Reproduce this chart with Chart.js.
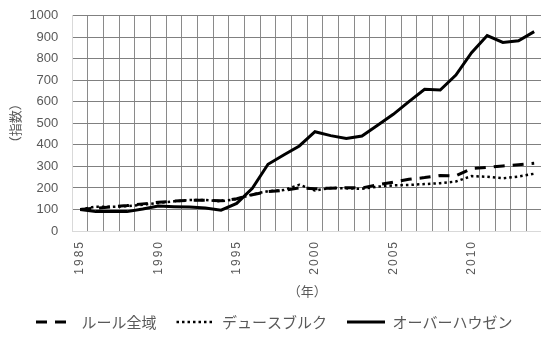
<!DOCTYPE html>
<html lang="ja">

<head>
  <meta charset="UTF-8">
  <title>指数の推移</title>
  <script src="https://cdn.jsdelivr.net/npm/chart.js"></script>
  <style>
    body { margin: 0; overflow: hidden; background: #fff; }
  </style>
</head>

<body>
  <canvas id="graficoIndice" width="545" height="341"></canvas>

  <script>
    // 年 (1985〜2014)
    var anos = ['1985', '1986', '1987', '1988', '1989', '1990', '1991', '1992', '1993', '1994',
      '1995', '1996', '1997', '1998', '1999', '2000', '2001', '2002', '2003', '2004',
      '2005', '2006', '2007', '2008', '2009', '2010', '2011', '2012', '2013', '2014'];

    // 凡例
    var nomes = ['ルール全域', 'デュースブルク', 'オーバーハウゼン'];

    // ルール全域
    var ruhr = [100, 106, 112, 118, 126, 133, 139, 143, 143, 140,
      150, 168, 183, 188, 200, 196, 199, 201, 200, 215,
      227, 240, 248, 258, 256, 290, 295, 302, 308, 315];

    // デュースブルク
    var duisburg = [100, 113, 112, 115, 122, 130, 138, 144, 144, 138,
      148, 170, 185, 190, 215, 188, 200, 198, 196, 206,
      212, 214, 218, 222, 230, 255, 252, 245, 253, 266];

    // オーバーハウゼン
    var oberhausen = [100, 90, 90, 90, 102, 116, 113, 111, 107, 97,
      128, 198, 310, 353, 395, 461, 443, 430, 441, 491,
      542, 601, 658, 655, 724, 828, 908, 876, 884, 926];

    var fonteJP = "'Noto Sans CJK JP', 'Noto Sans', sans-serif";
    var cinza = '#595959';

    // espaçamento entre letras nos rótulos do eixo x
    var espacamento = {
      id: 'espacamento',
      beforeDraw: function (chart) {
        var sx = chart.scales.x;
        if (sx._espacado) return;
        var original = sx.drawLabels;
        sx.drawLabels = function (area) {
          chart.ctx.save();
          chart.ctx.letterSpacing = '2px';
          original.call(this, area);
          chart.ctx.restore();
        };
        sx._espacado = true;
      }
    };

    var ctx = document.getElementById('graficoIndice').getContext('2d');
    var myChart = new Chart(ctx, {
      type: 'line',
      data: {
        labels: anos,
        datasets: [{
          label: nomes[0],
          data: ruhr,
          borderColor: '#000',
          borderWidth: 3,
          borderDash: [11, 8],
          pointRadius: 0,
          tension: 0
        }, {
          label: nomes[1],
          data: duisburg,
          borderColor: '#000',
          borderWidth: 2.5,
          borderDash: [2.5, 3],
          pointRadius: 0,
          tension: 0
        }, {
          label: nomes[2],
          data: oberhausen,
          borderColor: '#000',
          borderWidth: 3,
          pointRadius: 0,
          tension: 0
        }]
      },
      options: {
        responsive: false,
        animation: false,
        devicePixelRatio: 1,
        layout: { padding: { top: 15.7, right: 3, bottom: 1.5, left: 16 } },
        scales: {
          x: {
            offset: true,
            grid: {
              offset: true,
              drawTicks: false,
              color: function (c) { return c.index === 0 ? '#d9d9d9' : '#8a8a8a'; }
            },
            border: { color: '#d9d9d9' },
            ticks: {
              autoSkip: false,
              minRotation: 90,
              maxRotation: 90,
              padding: 9,
              color: cinza,
              font: { family: "'Liberation Sans', sans-serif", size: 12 },
              callback: function (v, i) {
                var a = anos[i];
                return Number(a) % 5 === 0 ? a : '';
              }
            },
            title: {
              display: true,
              text: '（年）',
              color: cinza,
              font: { family: fonteJP, size: 13 },
              padding: { top: 0, bottom: -4.3 }
            },
            afterFit: function (s) {
              s.height = 63.5;
              s.paddingLeft = 0;
              s.paddingRight = 0;
            }
          },
          y: {
            min: 0,
            max: 1000,
            ticks: {
              stepSize: 100,
              autoSkip: false,
              padding: 14,
              color: cinza,
              font: { family: "'Liberation Sans', sans-serif", size: 13 },
              callback: function (v) { return String(v); }
            },
            grid: {
              drawTicks: false,
              color: function (c) { return c.tick && c.tick.value === 0 ? '#d9d9d9' : '#808080'; }
            },
            border: { color: '#d9d9d9' },
            title: {
              display: true,
              text: '（指数）',
              color: cinza,
              font: { family: fonteJP, size: 13 },
              padding: { top: -8.8, bottom: 0 }
            },
            afterFit: function (s) {
              s.width = 56.3;
              s.paddingTop = 0;
              s.paddingBottom = 0;
            }
          }
        },
        plugins: {
          tooltip: { enabled: false },
          legend: {
            position: 'bottom',
            align: 'start',
            labels: {
              usePointStyle: true,
              pointStyle: 'line',
              pointStyleWidth: 38,
              boxHeight: 15,
              padding: 20,
              color: cinza,
              font: { family: fonteJP, size: 15 },
              generateLabels: function (chart) {
                var itens = Chart.defaults.plugins.legend.labels.generateLabels(chart);
                itens.forEach(function (item) {
                  var ds = chart.data.datasets[item.datasetIndex];
                  item.lineDash = ds.borderDash || [];
                  item.lineWidth = ds.borderWidth;
                  item.strokeStyle = '#000';
                  item.pointStyle = 'line';
                  item.fontColor = cinza;
                });
                return itens;
              }
            }
          }
        }
      },
      plugins: [espacamento]
    });
  </script>
</body>

</html>
